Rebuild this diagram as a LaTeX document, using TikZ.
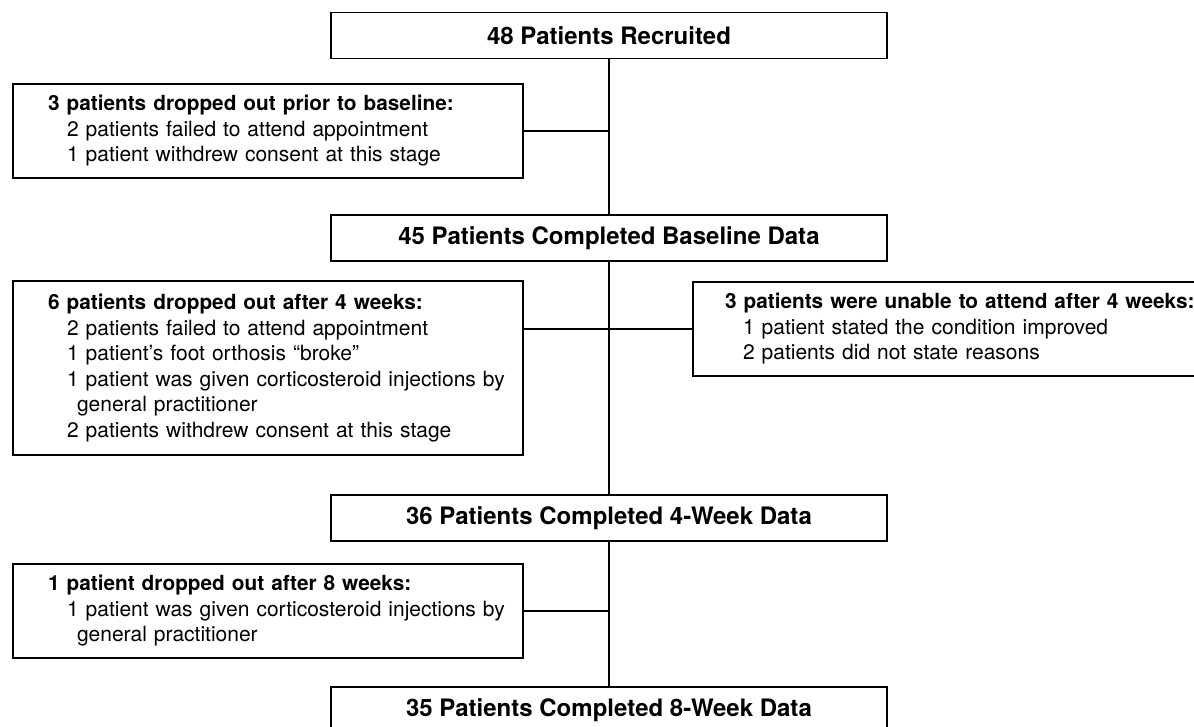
\documentclass[tikz,border=0pt]{standalone}
\usepackage{fontspec}
\setmainfont{TeX Gyre Heros}
\usepackage{tikz}
\tikzset{
    mainbox/.style={draw=black, line width=1.8pt, minimum width=556pt, minimum height=46pt, inner sep=0pt, font=\fontsize{24}{28}\selectfont\bfseries},
    dropbox/.style={draw=black, line width=1.8pt, inner xsep=8pt, inner ysep=0pt, text width=494pt, align=left, font=\fontsize{21}{25.5}\selectfont},
    link/.style={line width=2.2pt}}
\newcommand{\dhead}[2][27pt]{\hspace*{#1}{\fontsize{20.8}{25.5}\selectfont\bfseries #2}}
\newcommand{\dline}[2][46pt]{\hspace*{#1}#2}
\newcommand{\dmore}[1]{\hspace*{56pt}#1}

\begin{document}
\begin{tikzpicture}[x=1pt, y=-1pt]

                    \useasboundingbox (0,0) rectangle (1194,727);
                    \clip (0,0) rectangle (1194,727);

                    \node[mainbox] (R) at (609,35.5) {48 Patients Recruited};
                    \node[dropbox, minimum height=94pt] (D1) at (268,131) {\dhead{3 patients dropped out prior to baseline:}\\ \dline{2 patients failed to attend appointment}\\ \dline{1 patient withdrew consent at this stage}};
                    \node[mainbox] (B) at (609,238) {45 Patients Completed Baseline Data};
                    \node[dropbox, minimum height=174pt] (D2) at (268,368) {\dhead{6 patients dropped out after 4 weeks:}\\ \dline{2 patients failed to attend appointment}\\ \dline{1 patient’s foot orthosis “broke”}\\ \dline{1 patient was given corticosteroid injections by}\\ \dmore{general practitioner}\\ \dline{2 patients withdrew consent at this stage}};
                    \node[dropbox, minimum height=94pt, text width=506pt] (U) at (954,329) {\dhead[24pt]{3 patients were unable to attend after 4 weeks:}\\ \dline[42pt]{1 patient stated the condition improved}\\ \dline[42pt]{2 patients did not state reasons}};
                    \node[mainbox] (W4) at (609,518) {36 Patients Completed 4-Week Data};
                    \node[dropbox, minimum height=94pt] (D3) at (268,611) {\dhead{1 patient dropped out after 8 weeks:}\\ \dline{1 patient was given corticosteroid injections by}\\ \dmore{general practitioner}};
                    \node[mainbox] (W8) at (609,710) {35 Patients Completed 8-Week Data};

                    \draw[link] (R) -- (B);
                    \draw[link] (B) -- (W4);
                    \draw[link] (W4) -- (W8);
                    \draw[link] (D1.east) -- (D1.east -| R.south);
                    \draw[link] (U.west) -- (U.west -| D2.east);
                    \draw[link] (D3.east) -- (D3.east -| W4.south);

                \end{tikzpicture}
\end{document}
